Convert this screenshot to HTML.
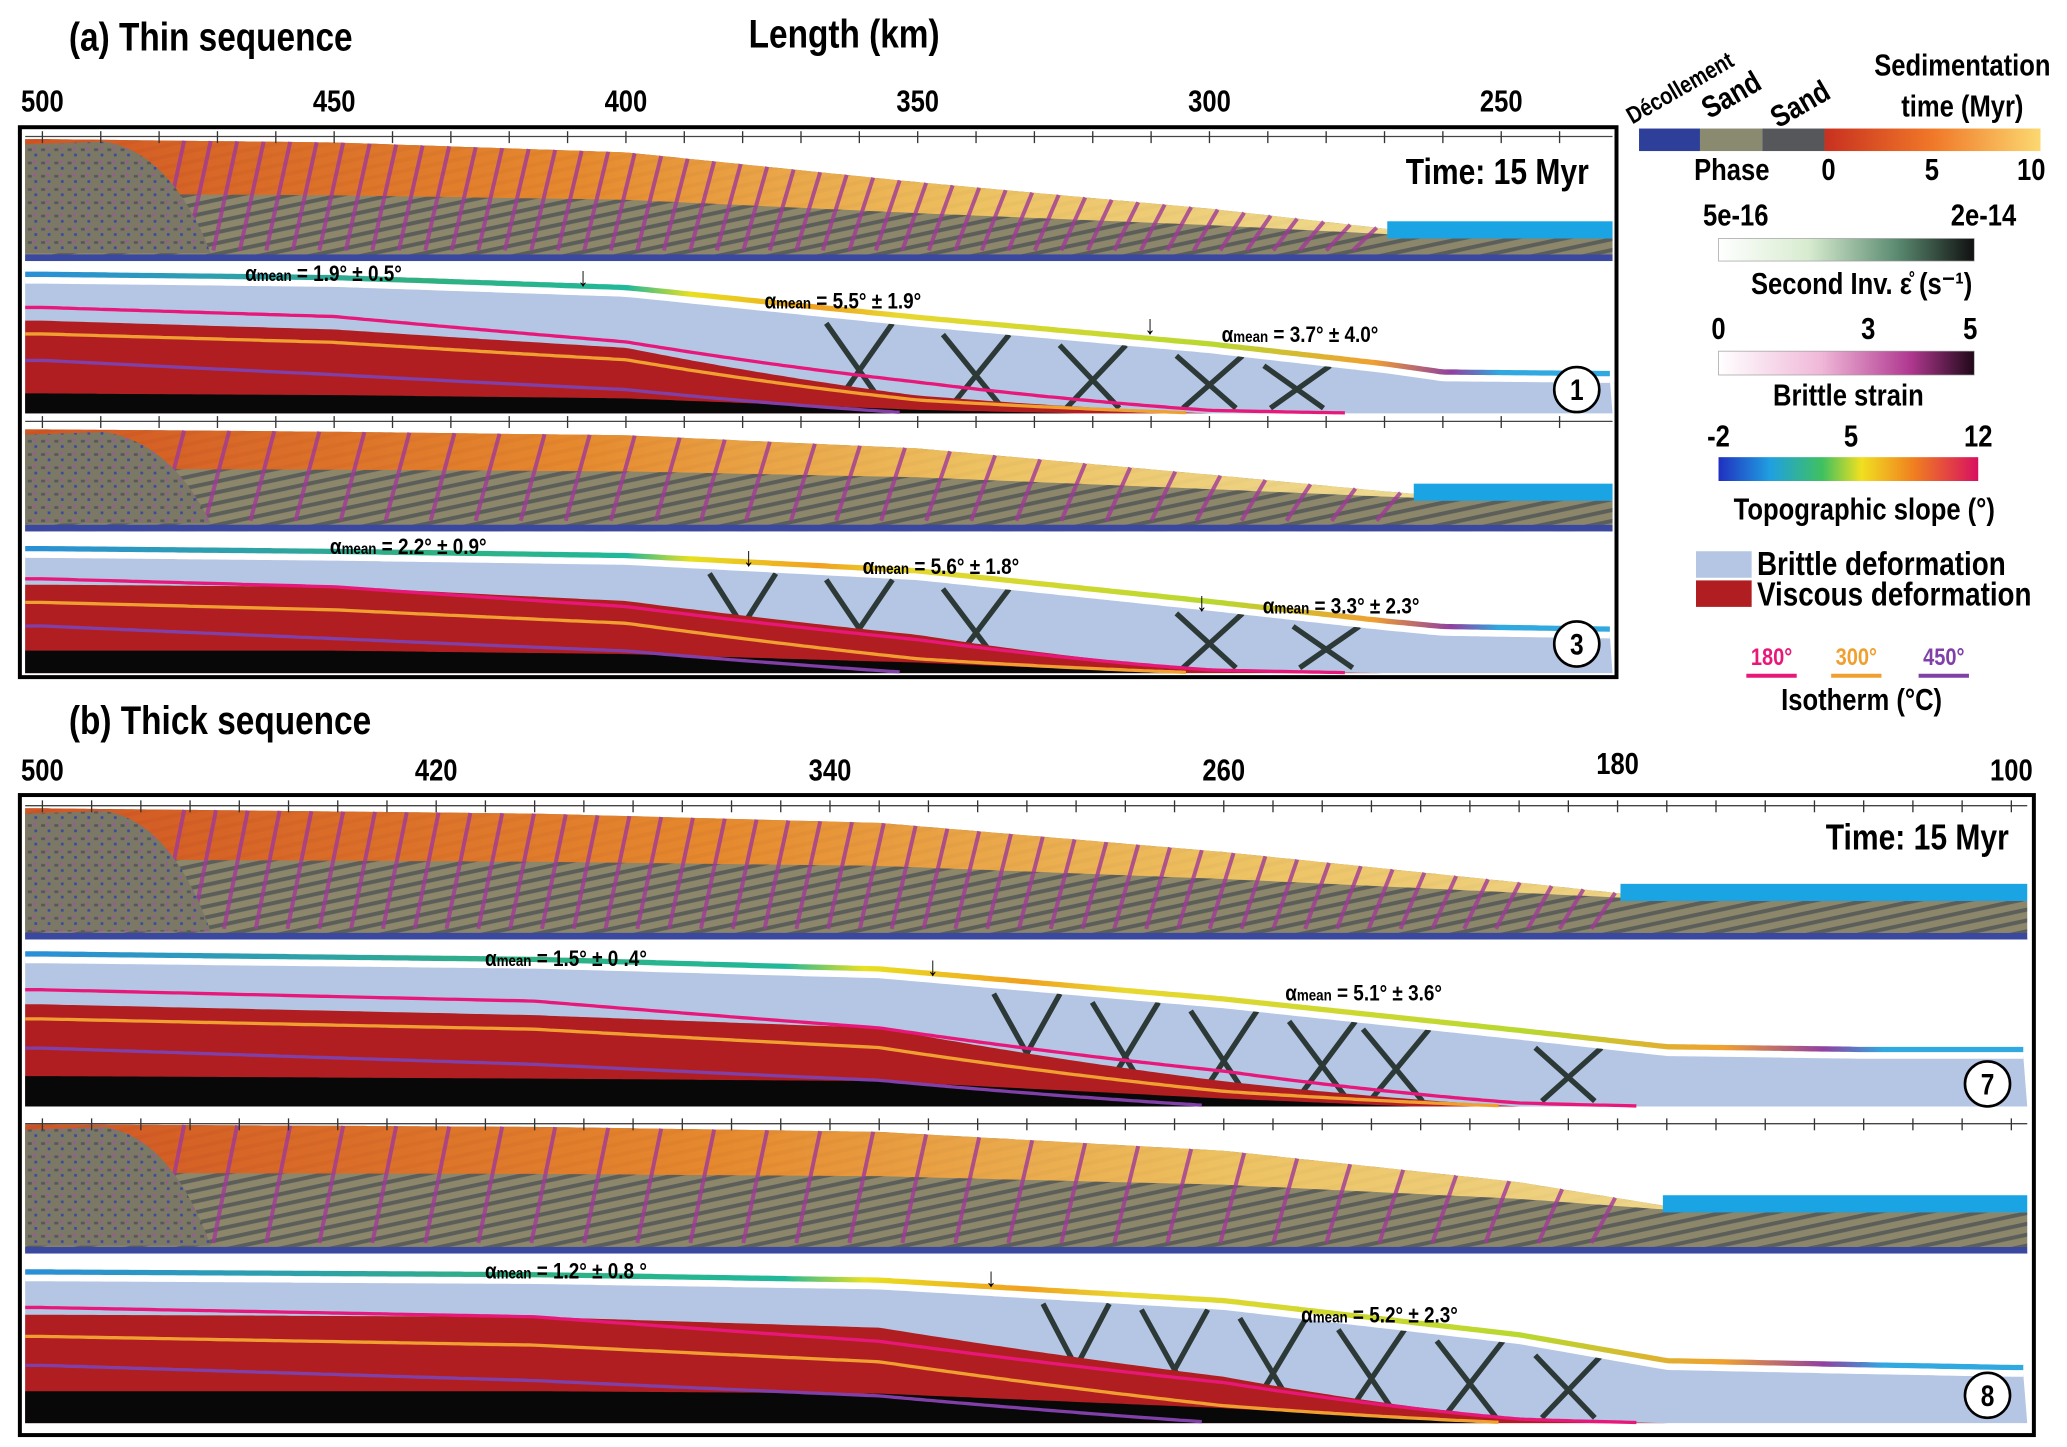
<!DOCTYPE html>
<html><head><meta charset="utf-8"><style>
html,body{margin:0;padding:0;background:#fff;}
svg{display:block;}
text{font-family:"Liberation Sans Narrow","Liberation Sans",sans-serif;font-weight:bold;fill:#000;}
</style></head><body>
<svg id="fig" xmlns="http://www.w3.org/2000/svg" width="2067" height="1447" viewBox="0 0 1560 1092" preserveAspectRatio="none">
<defs>
<pattern id="strata" width="14" height="8" patternUnits="userSpaceOnUse" patternTransform="rotate(-12)">
<rect width="14" height="8" fill="#8c866a"/><rect y="4" width="14" height="3" fill="#5c5e5a"/>
</pattern>
<pattern id="chaos" width="10" height="10" patternUnits="userSpaceOnUse">
<rect width="10" height="10" fill="#7c7866"/><rect x="1" y="2" width="3" height="2" fill="#55575a"/><rect x="6" y="6" width="2" height="2" fill="#3a48a0"/><rect x="5" y="1" width="2" height="2" fill="#9a5a98"/>
</pattern>
<linearGradient id="sedA" x1="0" x2="1" y1="0" y2="0">
<stop offset="0" stop-color="#d8501c"/><stop offset="0.35" stop-color="#f08a28"/><stop offset="0.6" stop-color="#f8c860"/><stop offset="1" stop-color="#fbf2b0"/></linearGradient>
<linearGradient id="slopeA" x1="0" x2="1">
<stop offset="0" stop-color="#2a8fd8"/><stop offset="0.25" stop-color="#30b080"/><stop offset="0.38" stop-color="#20b89a"/><stop offset="0.42" stop-color="#e8e020"/><stop offset="0.5" stop-color="#f0a020"/><stop offset="0.55" stop-color="#e8d830"/><stop offset="0.75" stop-color="#b8d830"/><stop offset="0.85" stop-color="#f0a030"/><stop offset="0.9" stop-color="#9040a0"/><stop offset="0.93" stop-color="#30a8e0"/><stop offset="1" stop-color="#30a8e0"/></linearGradient>
<linearGradient id="sedBar" x1="0" x2="1"><stop offset="0" stop-color="#c83020"/><stop offset="0.5" stop-color="#f07828"/><stop offset="1" stop-color="#fcd870"/></linearGradient>
<linearGradient id="srBar" x1="0" x2="1"><stop offset="0" stop-color="#ffffff"/><stop offset="0.35" stop-color="#d8ecd0"/><stop offset="0.7" stop-color="#5a8a70"/><stop offset="1" stop-color="#101010"/></linearGradient>
<linearGradient id="bsBar" x1="0" x2="1"><stop offset="0" stop-color="#ffffff"/><stop offset="0.4" stop-color="#f0b8d8"/><stop offset="0.75" stop-color="#b03890"/><stop offset="1" stop-color="#200818"/></linearGradient>
<linearGradient id="tsBar" x1="0" x2="1"><stop offset="0" stop-color="#2030c0"/><stop offset="0.2" stop-color="#20a0e0"/><stop offset="0.4" stop-color="#40c060"/><stop offset="0.55" stop-color="#f0e020"/><stop offset="0.75" stop-color="#f08020"/><stop offset="1" stop-color="#d81060"/></linearGradient>
</defs>
<g id="content"></g>
</svg>
<script>
// ---- data (km positions and elevations, km) ----
const kmA = [500, 450, 400, 350, 300, 270, 260, 230];
const elevM1 = [6.0, 5.8, 5.2, 3.4, 1.8, 0.6, 0.1, 0.0];
const elevM3 = [6.0, 5.8, 5.5, 4.4, 2.2, 0.8, 0.4, 0.2];
const kmB = [500, 400, 330, 260, 200, 170, 130, 100];
const elevM7 = [7.0, 6.6, 5.9, 3.7, 1.4, 0.2, 0.0, 0.0];
const elevM8 = [7.0, 6.8, 6.4, 4.9, 2.4, 0.5, 0.2, 0.0];
// viscous top, as fraction of column depth below surface (1 = none)
const viscM1 = [0.3, 0.35, 0.45, 0.8, 1, 1, 1, 1];
const viscM3 = [0.25, 0.25, 0.35, 0.6, 0.95, 1, 1, 1];
const viscM7 = [0.3, 0.35, 0.4, 0.75, 1, 1, 1, 1];
const viscM8 = [0.25, 0.25, 0.3, 0.6, 0.95, 1, 1, 1];
// isotherms (fraction of depth)
const iso180 = [0.2, 0.25, 0.4, 0.65, 0.95, 1, 1, 1];
const iso300 = [0.4, 0.45, 0.55, 0.85, 1, 1, 1, 1];
const iso450 = [0.6, 0.7, 0.8, 1, 1, 1, 1, 1];
// fault locations (km)
const faultsM1 = [360, 340, 320, 300, 285];
const faultsM3 = [380, 360, 340, 300, 280];
const faultsM7 = [300, 280, 260, 240, 225, 190];
const faultsM8 = [290, 270, 250, 230, 210, 190];
// axis tick labels
const ticksA = [500, 450, 400, 350, 300, 250];
const ticksB = [500, 420, 340, 260, 180, 100];

const NS = "http://www.w3.org/2000/svg";
const root = document.getElementById('content');
function mk(tag, attrs, parent){const e=document.createElementNS(NS,tag);for(const k in attrs)e.setAttribute(k,attrs[k]);(parent||root).appendChild(e);return e;}
const xa = km => 32 + (500-km)*4.404;
const xb = km => 32 + (500-km)*3.715;
function interp(kms, vals, km){
  if(km>=kms[0]) return vals[0];
  for(let i=1;i<kms.length;i++){ if(km>=kms[i]){const t=(kms[i-1]-km)/(kms[i-1]-kms[i]);return vals[i-1]+(vals[i]-vals[i-1])*t;} }
  return vals[vals.length-1];
}
function samples(xf, left, right){const out=[];for(let x=left;x<=right;x+=4){out.push(x);}return out;}
function kmAt(xf, x){const a=xf(500), b=xf(400); return 500 - (x-a)/(b-a)*100;}

function phaseRow(name, xf, kms, elev, L, R, row){
  const g=mk('g',{});
  
  
  const xs=samples(xf,L,R);
  const sy = x => row.base - interp(kms,elev,kmAt(xf,x))*row.k;
  let top=xs.map(x=>x+','+sy(x).toFixed(1)).join(' ');
  mk('polygon',{points:top+' '+R+','+row.bottom+' '+L+','+row.bottom,fill:'url(#strata)'},g);
  let sed=xs.map(x=>x+','+sy(x).toFixed(1));
  let sedBot=xs.slice().reverse().map(x=>{const t=sy(x);const th=(row.base-t)*0.55;return x+','+(t+th).toFixed(1);});
  const sedEl=mk('polygon',{points:sed.concat(sedBot).join(' '),fill:'url(#sedA)',opacity:0.9},g);
  
  for(let x=L+120;x<R-80;x+= (row.spacing||22)){
    const t=sy(x); if(row.base-t<6) continue;
    mk('line',{x1:x,y1:t,x2:x-18,y2:row.bottom-8,stroke:'#a03a98','stroke-width':3,opacity:0.8},g);
  }
  const cz=mk('path',{d:`M${L},${sy(L)+4} L${L+60},${sy(L)+2} Q${L+110},${sy(L)+10} ${L+140},${row.bottom-6} L${L},${row.bottom-6} Z`,fill:'url(#chaos)'},g);
  
  mk('rect',{x:L,y:row.bottom-5,width:R-L,height:5,fill:'#3a48a0'},g);
  let wx=xs.find(x=>row.base-sy(x)<0.6*row.k)||R;
  const w=mk('rect',{x:wx,y:row.base-13,width:R-wx,height:13,fill:'#1aa4e4'},g);
  
  mk('rect',{x:wx,y:row.base,width:R-wx,height:row.bottom-row.base-5,fill:'url(#strata)'},g);
}

function defRow(name, xf, kms, elev, visc, faults, L, R, row){
  const g=mk('g',{});
  
  
  const xs=samples(xf,L,R);
  const sy = x => row.base - interp(kms,elev,kmAt(xf,x))*row.k;
  const dep = (x,arr) => {const t=sy(x);return t+(row.bottom-t)*interp(kms,arr,kmAt(xf,x));};
  const top=xs.map(x=>x+','+sy(x).toFixed(1)).join(' ');
  mk('polygon',{points:top+' '+R+','+row.bottom+' '+L+','+row.bottom,fill:'#b4c6e4'},g);
  faults.forEach(km=>{
    const x=xf(km), t=sy(x);
    const f=mk('path',{d:`M${x-25},${t+4} L${x+20},${row.bottom-4} M${x+25},${t+4} L${x-20},${row.bottom-4}`,stroke:'#142018','stroke-width':4,fill:'none',opacity:0.85},g);
    
  });
  const vt=xs.map(x=>x+','+dep(x,visc).toFixed(1)).join(' ');
  const v=mk('polygon',{points:vt+' '+R+','+row.bottom+' '+L+','+row.bottom,fill:'#b01e22'},g);
  
  const bt=xs.map(x=>x+','+(row.bottom-Math.max(0,(row.bottom-row.base)*0.9*(1-interp(kms,visc,kmAt(xf,x))*1.1))).toFixed(1)).join(' ');
  mk('polygon',{points:bt+' '+R+','+row.bottom+' '+L+','+row.bottom,fill:'#080808'},g);
  [[iso180,'#e8187a'],[iso300,'#f0a030'],[iso450,'#8040a8']].forEach(([arr,c])=>{
    const pts=xs.filter(x=>interp(kms,arr,kmAt(xf,x))<0.99).map(x=>x+','+dep(x,arr).toFixed(1)).join(' ');
    const p=mk('polyline',{points:pts,fill:'none',stroke:c,'stroke-width':2.5},g);
    
  });
  mk('polyline',{points:top,fill:'none',stroke:'#fff','stroke-width':4},g);
  const sl=xs.map(x=>x+','+(sy(x)-5).toFixed(1)).join(' ');
  const s=mk('polyline',{points:sl,fill:'none',stroke:'url(#slopeA)','stroke-width':4},g);
  
}

const SX=0.84;
function txt(s,x,y,size,name,anchor,extra,rot){
  const tr=`translate(${x} ${y})`+(rot?` rotate(${rot})`:'')+` scale(${SX} 1)`;
  const t=mk('text',Object.assign({x:0,y:0,'font-size':size,'text-anchor':anchor||'start',transform:tr},extra||{}));
  t.textContent=s;return t;}
function alpha(val,x,y){
  const t=mk('text',{x:0,y:0,'font-size':17,transform:`translate(${x} ${y}) scale(${SX} 1)`});
  
  
  const a=mk('tspan',{},t);a.textContent='α';
  const b=mk('tspan',{'font-size':12},t);b.textContent='mean';
  const c=mk('tspan',{},t);c.textContent=' = '+val;
}
function arrow(x,y){txt('↓',x,y,20,'arrow-marker','middle');}
function circ(n,x,y){const c=mk('circle',{cx:x,cy:y,r:17,fill:'#fff',stroke:'#000','stroke-width':2});txt(n,x,y+8,22,'model-number','middle');}
function tickLine(xf,L,R,y,step,from,to){
  mk('line',{x1:L,y1:y,x2:R,y2:y,stroke:'#444','stroke-width':1});
  for(let km=from;km>=to;km-=step){const x=xf(km);if(x<L||x>R)continue;mk('line',{x1:x,y1:y-4,x2:x,y2:y+5,stroke:'#333','stroke-width':1});}
}

// ---------- Panel (a) ----------
txt('(a) Thin sequence',52,38,30,'panel-a-title');
txt('Length (km)',565,36,30,'x-axis-title');
ticksA.forEach(v=>txt(String(v),xa(v),84,23,'x-tick-label-a','middle'));
const fa=mk('rect',{x:15,y:96,width:1205,height:415,fill:'none',stroke:'#000','stroke-width':3});

const rowP1={base:180,bottom:197,k:12.5,spacing:20}, rowD1={base:287,bottom:312,k:12.5};
const rowP3={base:378,bottom:401,k:9,spacing:34}, rowD3={base:482,bottom:508,k:10.5};
phaseRow('phase-model-1',xa,kmA,elevM1,19,1217,rowP1);
defRow('deformation-model-1',xa,kmA,elevM1,viscM1,faultsM1,19,1217,rowD1);
phaseRow('phase-model-3',xa,kmA,elevM3,19,1217,rowP3);
defRow('deformation-model-3',xa,kmA,elevM3,viscM3,faultsM3,19,1217,rowD3);
tickLine(xa,19,1217,103,10,500,230);
tickLine(xa,19,1217,318,10,500,230);
txt('Time: 15 Myr',1130,139,27,'time-label-a','middle');
alpha('1.9° ± 0.5°',185,212);alpha('5.5° ± 1.9°',577,233);alpha('3.7° ± 4.0°',922,258);
alpha('2.2° ± 0.9°',249,418);alpha('5.6° ± 1.8°',651,433);alpha('3.3° ± 2.3°',953,463);
arrow(440,216);arrow(868,252);arrow(565,427);arrow(907,461);
circ('1',1190,294);circ('3',1190,486);

// ---------- Panel (b) ----------
txt('(b) Thick sequence',52,554,30,'panel-b-title');
ticksB.forEach((v,i)=>txt(String(v),xb(v),i===4?584:589,23,'x-tick-label-b','middle'));
const fb=mk('rect',{x:15,y:600,width:1520,height:483,fill:'none',stroke:'#000','stroke-width':3});

const rowP7={base:680,bottom:709,k:10,spacing:24}, rowD7={base:797,bottom:835,k:10.3};
const rowP8={base:915,bottom:946,k:9.5,spacing:40}, rowD8={base:1037,bottom:1074,k:10.3};
phaseRow('phase-model-7',xb,kmB,elevM7,19,1530,rowP7);
defRow('deformation-model-7',xb,kmB,elevM7,viscM7,faultsM7,19,1530,rowD7);
phaseRow('phase-model-8',xb,kmB,elevM8,19,1530,rowP8);
defRow('deformation-model-8',xb,kmB,elevM8,viscM8,faultsM8,19,1530,rowD8);
tickLine(xb,19,1530,608,10,500,100);
tickLine(xb,19,1530,848,10,500,100);
txt('Time: 15 Myr',1447,641,27,'time-label-b','middle');
alpha('1.5° ± 0 .4°',366,729);alpha('5.1° ± 3.6°',970,755);
alpha('1.2° ± 0.8 °',366,965);alpha('5.2° ± 2.3°',982,998);
arrow(704,736);arrow(748,971);
circ('7',1500,818);circ('8',1500,1053);

// ---------- Legend ----------
const lg=mk('g',{});
mk('rect',{x:1237,y:97,width:46,height:17,fill:'#2e3f9a'},lg);
mk('rect',{x:1283,y:97,width:47,height:17,fill:'#8a8a70'},lg);
mk('rect',{x:1330,y:97,width:47,height:17,fill:'#55575a'},lg);
mk('rect',{x:1377,y:97,width:163,height:17,fill:'url(#sedBar)'},lg);
txt('Décollement',1232,94,18,'legend-decollement','start',{},-30);
txt('Sand',1290,90,23,'legend-sand-1','start',{},-30);
txt('Sand',1342,97,23,'legend-sand-2','start',{},-30);
txt('Sedimentation',1481,57,23,'legend-sedimentation','middle');
txt('time (Myr)',1481,88,23,'legend-sed-time','middle');
txt('Phase',1307,136,23,'legend-phase','middle');
txt('0',1380,136,23,'legend-sed-0','middle');txt('5',1458,136,23,'legend-sed-5','middle');txt('10',1533,136,23,'legend-sed-10','middle');
mk('rect',{x:1297,y:180,width:193,height:17,fill:'url(#srBar)',stroke:'#999','stroke-width':0.5},lg);
txt('5e-16',1310,170,23,'legend-sr-min','middle');txt('2e-14',1497,170,23,'legend-sr-max','middle');
txt('Second Inv. ε̊ (s⁻¹)',1405,222,23,'legend-strain-rate-title','middle');
mk('rect',{x:1297,y:265,width:193,height:18,fill:'url(#bsBar)',stroke:'#999','stroke-width':0.5},lg);
txt('0',1297,256,23,'legend-bs-0','middle');txt('3',1410,256,23,'legend-bs-3','middle');txt('5',1487,256,23,'legend-bs-5','middle');
txt('Brittle strain',1395,306,23,'legend-brittle-strain-title','middle');
mk('rect',{x:1297,y:345,width:196,height:18,fill:'url(#tsBar)'},lg);
txt('-2',1297,337,23,'legend-ts-min','middle');txt('5',1397,337,23,'legend-ts-5','middle');txt('12',1493,337,23,'legend-ts-max','middle');
txt('Topographic slope (°)',1407,392,23,'legend-slope-title','middle');
mk('rect',{x:1280,y:416,width:42,height:20,fill:'#b4c6e4'},lg);
mk('rect',{x:1280,y:438,width:42,height:20,fill:'#b01e22'},lg);
txt('Brittle deformation',1326,434,25,'legend-brittle-deformation');
txt('Viscous deformation',1326,457,25,'legend-viscous-deformation');
txt('180°',1337,502,18,'legend-iso-180','middle',{style:'fill:#e8187a'});
txt('300°',1401,502,18,'legend-iso-300','middle',{style:'fill:#f0a030'});
txt('450°',1467,502,18,'legend-iso-450','middle',{style:'fill:#8040a8'});
mk('line',{x1:1318,y1:510,x2:1356,y2:510,stroke:'#e8187a','stroke-width':3},lg);
mk('line',{x1:1382,y1:510,x2:1420,y2:510,stroke:'#f0a030','stroke-width':3},lg);
mk('line',{x1:1448,y1:510,x2:1486,y2:510,stroke:'#8040a8','stroke-width':3},lg);
txt('Isotherm (°C)',1405,536,23,'legend-isotherm-title','middle');
</script>
</body></html>
